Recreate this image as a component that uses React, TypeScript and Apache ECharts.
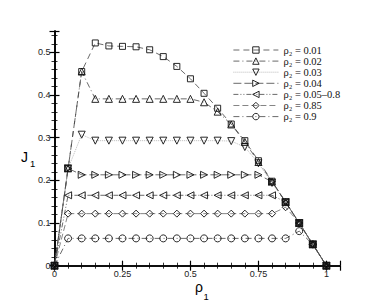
import React, { useEffect, useRef } from "react";
import * as echarts from "echarts";

const rho1 = [0, 0.05, 0.1, 0.15, 0.2, 0.25, 0.3, 0.35, 0.4, 0.45, 0.5, 0.55, 0.6, 0.65, 0.7, 0.75, 0.8, 0.85, 0.9, 0.95, 1];

const seriesNames = ["0.01", "0.02", "0.03", "0.04", "0.05\u20130.8", "0.85", "0.9"];

const j01 = [0, 0.228, 0.455, 0.522, 0.515, 0.514, 0.513, 0.506, 0.49, 0.467, 0.438, 0.404, 0.369, 0.332, 0.293, 0.246, 0.198, 0.149, 0.1, 0.05, 0];
const j02 = [0, 0.228, 0.455, 0.391, 0.391, 0.391, 0.391, 0.391, 0.391, 0.391, 0.391, 0.383, 0.361, 0.331, 0.29, 0.243, 0.197, 0.149, 0.1, 0.05, 0];
const j03 = [0, 0.228, 0.307, 0.293, 0.293, 0.293, 0.293, 0.293, 0.293, 0.293, 0.293, 0.293, 0.293, 0.292, 0.278, 0.24, 0.194, 0.149, 0.1, 0.05, 0];
const j04 = [0, 0.228, 0.213, 0.213, 0.213, 0.213, 0.213, 0.213, 0.213, 0.213, 0.213, 0.213, 0.213, 0.213, 0.213, 0.213, 0.197, 0.149, 0.1, 0.05, 0];
const j05 = [0, 0.165, 0.165, 0.165, 0.165, 0.165, 0.165, 0.165, 0.165, 0.165, 0.165, 0.165, 0.165, 0.165, 0.165, 0.165, 0.165, 0.149, 0.1, 0.05, 0];
const j85 = [0, 0.122, 0.122, 0.122, 0.122, 0.122, 0.122, 0.122, 0.122, 0.122, 0.122, 0.122, 0.122, 0.122, 0.122, 0.122, 0.122, 0.137, 0.1, 0.05, 0];
const j90 = [0, 0.064, 0.064, 0.064, 0.064, 0.064, 0.064, 0.064, 0.064, 0.064, 0.064, 0.064, 0.064, 0.064, 0.064, 0.064, 0.064, 0.064, 0.081, 0.05, 0];

const xTicks = [0, 0.25, 0.5, 0.75, 1];
const yTicks = [0, 0.1, 0.2, 0.3, 0.4, 0.5];

const seriesValues = [j01, j02, j03, j04, j05, j85, j90];

const styles = [
  { symbol: "rect", size: 6, rotate: 0, dash: [6, 4], color: "#444" },
  { symbol: "triangle", size: 7, rotate: 0, dash: [6, 3, 1, 3], color: "#444" },
  { symbol: "triangle", size: 7, rotate: 180, dash: [1, 1], color: "#aaa" },
  { symbol: "triangle", size: 7, rotate: -90, dash: [8, 3], color: "#444" },
  { symbol: "triangle", size: 7, rotate: 90, dash: [5, 2, 1, 2, 1, 2], color: "#444" },
  { symbol: "diamond", size: 7, rotate: 0, dash: [6, 3], color: "#666" },
  { symbol: "circle", size: 7, rotate: 0, dash: [6, 3, 1, 3], color: "#444" },
];

export default function App() {
  const ref = useRef<HTMLDivElement>(null);
  useEffect(() => {
    document.body.style.margin = "0";
    const chart = echarts.init(ref.current!, null, { renderer: "svg" });
    const fmt = (v: number) => String(Math.round(v * 100) / 100);
    const hollow = { color: "rgba(255,255,255,0)", borderColor: "#111", borderWidth: 0.9 };
    const series = seriesValues.map((vals, i) => ({
      name: seriesNames[i],
      type: "line",
      data: rho1.map((x, k) => [x, vals[k]]),
      symbol: styles[i].symbol,
      symbolSize: styles[i].size,
      symbolRotate: styles[i].rotate,
      showAllSymbol: true,
      lineStyle: { color: styles[i].color, width: 0.8, type: styles[i].dash },
      itemStyle: hollow,
      z: 3,
    }));
    const axisCommon = {
      axisLine: { show: true, lineStyle: { color: "#000", width: 1.6 } },
      axisTick: { show: true, inside: true, length: 5, lineStyle: { color: "#000", width: 1.2 } },
      minorTick: { show: true, splitNumber: 5, length: 3, lineStyle: { color: "#000", width: 0.8 } },
      splitLine: { show: false },
    };
    const labelStyle = { fontFamily: "Liberation Sans", color: "#111" };
    chart.setOption({
      animation: false,
      grid: { left: 54.5, right: 42, top: 31, bottom: 40.3 },
      legend: {
        orient: "vertical",
        left: 233,
        top: 44.5,
        itemWidth: 45,
        itemHeight: 8,
        itemGap: 0.1,
        padding: 0,
        data: seriesNames,
        lineStyle: { width: 0.8 },
        itemStyle: hollow,
        formatter: (n: string) => "\u03c1\u2082 = " + n,
        textStyle: {
          fontFamily: "Liberation Serif",
          fontSize: 10.5,
          lineHeight: 11,
          color: "#111",
        },
      },
      graphic: [
        { type: "text", left: 21, top: 150, style: { text: "J", fontSize: 14, ...labelStyle } },
        { type: "text", left: 30, top: 158, style: { text: "1", fontSize: 9.5, ...labelStyle } },
        { type: "text", left: 195, top: 280, style: { text: "\u03c1", fontSize: 14, ...labelStyle } },
        { type: "text", left: 203.5, top: 291, style: { text: "1", fontSize: 9.5, ...labelStyle } },
      ],
      xAxis: [
        {
          type: "value",
          min: 0,
          max: 1.05,
          interval: 0.25,
          ...axisCommon,
          axisLabel: {
            fontFamily: "Liberation Sans",
            fontSize: 9,
            color: "#222",
            margin: 4,
            showMaxLabel: false,
            formatter: (v: number) => (xTicks.some((t) => Math.abs(t - v) < 1e-6) ? fmt(v) : ""),
          },
        },
        {
          type: "value",
          position: "top",
          min: 0,
          max: 1.05,
          interval: 0.25,
          ...axisCommon,
          axisLabel: { show: false },
        },
      ],
      yAxis: [
        {
          type: "value",
          min: 0,
          max: 0.55,
          interval: 0.1,
          ...axisCommon,
          axisLabel: {
            fontFamily: "Liberation Sans",
            fontSize: 9,
            color: "#222",
            margin: 4,
            showMaxLabel: false,
            formatter: (v: number) => (yTicks.some((t) => Math.abs(t - v) < 1e-6) ? fmt(v) : ""),
          },
        },
        {
          type: "value",
          position: "right",
          min: 0,
          max: 0.55,
          interval: 0.1,
          ...axisCommon,
          axisLabel: { show: false },
        },
      ],
      series,
    });
    return () => chart.dispose();
  }, []);
  return <div ref={ref} style={{ width: 382, height: 306 }} />;
}
